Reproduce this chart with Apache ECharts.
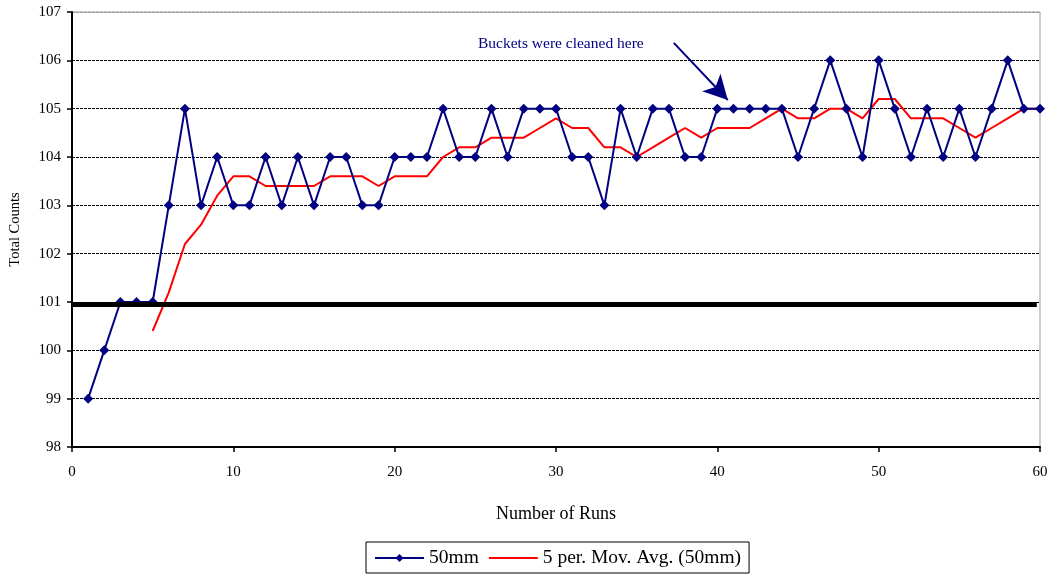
<!DOCTYPE html>
<html><head><meta charset="utf-8">
<script src="https://cdn.jsdelivr.net/npm/echarts@6/dist/echarts.min.js"></script>
<style>html,body{margin:0;padding:0;background:#fff}#c{width:1053px;height:574px}</style>
</head><body><div id="c"></div>
<script>
const runs = [1,2,3,4,5,6,7,8,9,10,11,12,13,14,15,16,17,18,19,20,21,22,23,24,25,26,27,28,29,30,31,32,33,34,35,36,37,38,39,40,41,42,43,44,45,46,47,48,49,50,51,52,53,54,55,56,57,58,59,60];
const counts50mm = [99,100,101,101,101,103,105,103,104,103,103,104,103,104,103,104,104,103,103,104,104,104,105,104,104,105,104,105,105,105,104,104,103,105,104,105,105,104,104,105,105,105,105,105,104,105,106,105,104,106,105,104,105,104,105,104,105,106,105,105];
const movAvgRuns = [5,6,7,8,9,10,11,12,13,14,15,16,17,18,19,20,21,22,23,24,25,26,27,28,29,30,31,32,33,34,35,36,37,38,39,40,41,42,43,44,45,46,47,48,49,50,51,52,53,54,55,56,57,58,59,60];
const movAvg = [100.4,101.2,102.2,102.6,103.2,103.6,103.6,103.4,103.4,103.4,103.4,103.6,103.6,103.6,103.4,103.6,103.6,103.6,104.0,104.2,104.2,104.4,104.4,104.4,104.6,104.8,104.6,104.6,104.2,104.2,104.0,104.2,104.4,104.6,104.4,104.6,104.6,104.6,104.8,105.0,104.8,104.8,105.0,105.0,104.8,105.2,105.2,104.8,104.8,104.8,104.6,104.4,104.6,104.8,105.0,105.0];
const thresholdLine = 100.95;
const arrowFrom = [37.3, 106.36];
const arrowTo = [40.65, 105.18];
const annotation = 'Buckets were cleaned here';
const seriesNames = ['50mm', '5 per. Mov. Avg. (50mm)'];

const font = '"Liberation Serif", "Times New Roman", serif';
const chart = echarts.init(document.getElementById('c'), null, {renderer:'canvas'});
const gridColors = ['#000','#000','#000','#000','#000','#000','#000','#000','#000','#999'];
chart.setOption({
  animation:false,
  backgroundColor:'#fff',
  textStyle:{fontFamily:font},
  grid:{left:72,right:13,top:12,bottom:127,show:true,borderColor:'#999',borderWidth:1,backgroundColor:'transparent'},
  xAxis:{type:'value',min:0,max:60,interval:10,
    name:'Number of Runs',nameLocation:'middle',nameGap:58,
    nameTextStyle:{fontFamily:font,fontSize:18,color:'#000'},
    axisLine:{onZero:false,lineStyle:{color:'#000',width:2}},
    axisTick:{show:true,length:5,lineStyle:{color:'#000',width:1.5}},
    axisLabel:{fontFamily:font,fontSize:15,color:'#000',margin:18},
    splitLine:{show:false}},
  yAxis:{type:'value',min:98,max:107,interval:1,
    name:'Total Counts',nameLocation:'middle',nameGap:49,nameRotate:90,
    nameTextStyle:{fontFamily:font,fontSize:14.5,color:'#000'},
    axisLine:{show:true,lineStyle:{color:'#000',width:2}},
    axisTick:{show:true,length:5,lineStyle:{color:'#000',width:1.5}},
    axisLabel:{fontFamily:font,fontSize:15,color:'#000',margin:11},
    splitLine:{show:true,lineStyle:{color:gridColors,width:1,type:[3,1]}}},
  legend:{bottom:1,left:366,
    data:[{name:seriesNames[0]},{name:seriesNames[1],icon:'path://M0,0 L100,0 L100,4 L0,4 Z'}],
    borderColor:'#000',borderWidth:1,padding:[6,8,5,8],itemGap:10,itemWidth:49,itemHeight:10,
    textStyle:{fontFamily:font,fontSize:19.5,color:'#000'}},
  graphic:[{type:'text',left:478,top:36,style:{text:annotation,font:'15.5px "Liberation Serif", serif',fill:'#000080'}}],
  series:[
    {name:seriesNames[0],type:'line',data:runs.map((r,i)=>[r,counts50mm[i]]),
     color:'#000080',symbol:'diamond',symbolSize:10,
     lineStyle:{color:'#000080',width:2},itemStyle:{color:'#000080'},z:3,
     markLine:{silent:true,animation:false,symbol:['none','none'],label:{show:false},
       lineStyle:{color:'#000',width:5,type:'solid'},
       data:[[{coord:[0,thresholdLine]},{coord:[59.8,thresholdLine]}],
             [{coord:arrowFrom,symbol:'none',lineStyle:{color:'#000080',width:2}},{coord:arrowTo,symbol:'arrow',symbolSize:[19,24],lineStyle:{color:'#000080',width:2}}]]}},
    {name:seriesNames[1],type:'line',data:movAvgRuns.map((r,i)=>[r,movAvg[i]]),
     color:'#ff0000',showSymbol:false,symbol:'none',lineStyle:{color:'#ff0000',width:2},itemStyle:{color:'#ff0000'},z:2}
  ]
});
</script></body></html>
